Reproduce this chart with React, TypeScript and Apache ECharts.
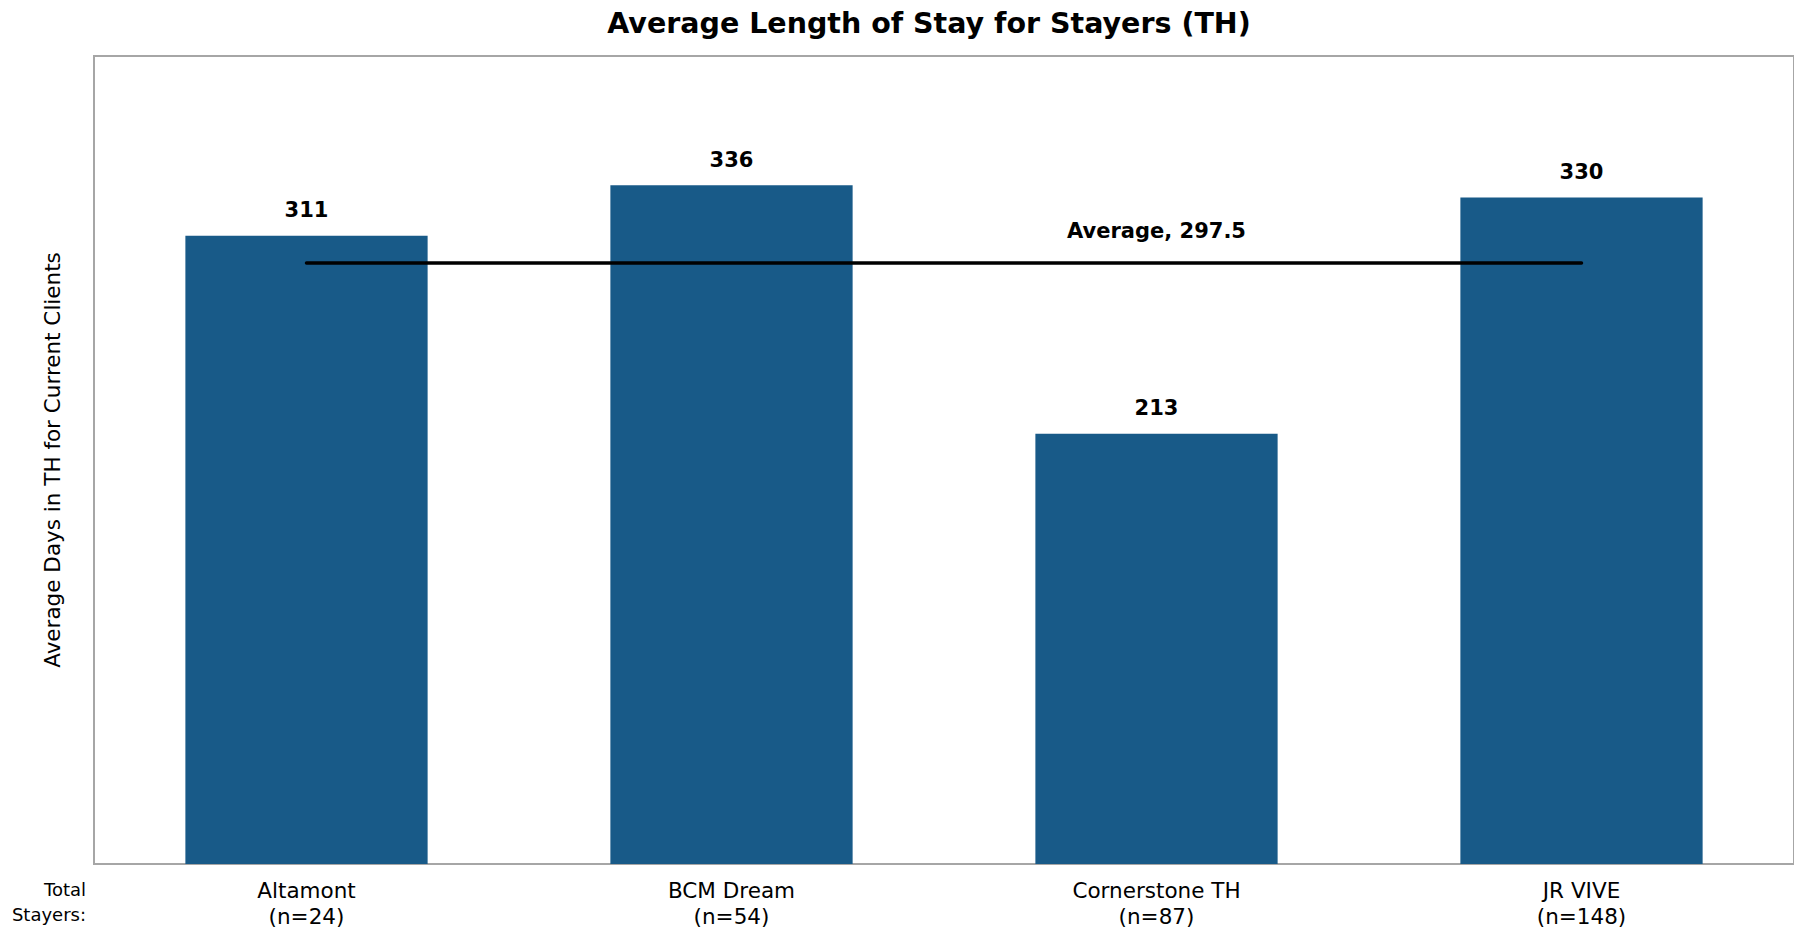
import React, { useEffect, useRef } from "react";
import * as echarts from "echarts";

const categories = ["Altamont", "BCM Dream", "Cornerstone TH", "JR VIVE"];
const counts = ["(n=24)", "(n=54)", "(n=87)", "(n=148)"];
const values = [311, 336, 213, 330];
const averageValue = 297.5;
const averageLabelIndex = 2;
const titleText = "Average Length of Stay for Stayers (TH)";
const yAxisName = "Average Days in TH for Current Clients";
const sideNote = "Total\nStayers:";

const FONT = "'DejaVu Sans', Inter, sans-serif";

export default function App() {
  const ref = useRef<HTMLDivElement>(null);

  useEffect(() => {
    if (!ref.current) return;
    const chart = echarts.init(ref.current, undefined, { renderer: "svg" });
    const xLabels = categories.map((c, i) => `${c}\n${counts[i]}`);
    const lineData = categories.map((_, i) =>
      i === averageLabelIndex
        ? { value: averageValue, label: { show: true } }
        : { value: averageValue }
    );
    chart.setOption({
      animation: false,
      backgroundColor: "#ffffff",
      textStyle: { fontFamily: FONT },
      title: {
        text: titleText,
        left: 924,
        textAlign: "center",
        top: 4,
        textStyle: {
          fontFamily: FONT,
          fontSize: 28.5,
          fontWeight: "bold",
          color: "#000000",
        },
      },
      grid: {
        left: 94,
        right: -2,
        top: 56,
        bottom: 69,
        show: true,
        borderColor: "#a6a6a6",
        borderWidth: 2,
        backgroundColor: "transparent",
      },
      xAxis: {
        type: "category",
        data: xLabels,
        axisLine: { show: true, lineStyle: { color: "#a6a6a6", width: 2 } },
        axisTick: { show: false },
        axisLabel: {
          color: "#000000",
          fontFamily: FONT,
          fontSize: 21.5,
          lineHeight: 26,
          margin: 13,
        },
      },
      yAxis: {
        type: "value",
        min: 0,
        max: 400,
        axisLine: { show: false },
        axisTick: { show: false },
        axisLabel: { show: false },
        splitLine: { show: false },
        name: yAxisName,
        nameLocation: "middle",
        nameGap: 31,
        nameTextStyle: {
          color: "#000000",
          fontFamily: FONT,
          fontSize: 21.5,
        },
      },
      graphic: [
        {
          type: "text",
          x: 86,
          y: 877,
          style: {
            text: sideNote,
            fill: "#000000",
            font: `18px ${FONT}`,
            lineHeight: 25,
            align: "right",
            verticalAlign: "top",
          },
        },
      ],
      series: [
        {
          type: "bar",
          data: values,
          barCategoryGap: "43%",
          itemStyle: { color: "#185a88" },
          label: {
            show: true,
            position: "top",
            distance: 15,
            color: "#000000",
            fontFamily: FONT,
            fontSize: 21,
            fontWeight: "bold",
          },
          z: 2,
        },
        {
          type: "line",
          data: lineData,
          symbol: "circle",
          symbolSize: 0,
          showSymbol: true,
          lineStyle: { color: "#000000", width: 3.5, cap: "round" },
          itemStyle: { color: "#000000" },
          label: {
            show: false,
            position: "top",
            distance: 22,
            color: "#000000",
            fontFamily: FONT,
            fontSize: 21,
            fontWeight: "bold",
            formatter: (p: any) => `Average, ${p.value}`,
          },
          z: 3,
        },
      ],
    });
    return () => chart.dispose();
  }, []);

  return (
    <div
      ref={ref}
      style={{ position: "fixed", left: 0, top: 0, width: 1794, height: 933 }}
    />
  );
}
